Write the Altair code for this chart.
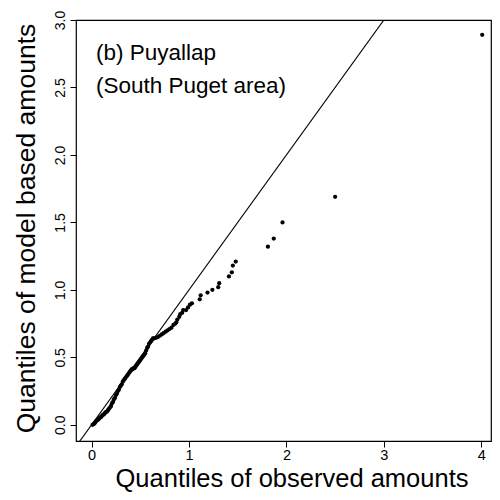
import altair as alt
import pandas as pd

# Quantiles of observed amounts (x) and model based amounts (y)
obs = [0.01, 0.02, 0.03, 0.04, 0.05, 0.06, 0.07, 0.08, 0.09, 0.10,
       0.11, 0.12, 0.13, 0.14, 0.15, 0.16, 0.17, 0.18, 0.19, 0.20,
       0.21, 0.22, 0.23, 0.24, 0.25, 0.26, 0.27, 0.28, 0.29, 0.30,
       0.31, 0.32, 0.33, 0.34, 0.35, 0.36, 0.37, 0.38, 0.39, 0.40,
       0.41, 0.42, 0.43, 0.44, 0.45, 0.46, 0.47, 0.48, 0.49, 0.50,
       0.51, 0.52, 0.53, 0.54, 0.55, 0.56, 0.57, 0.58, 0.59, 0.60,
       0.61, 0.62, 0.63, 0.64, 0.66, 0.68, 0.70, 0.72, 0.74, 0.76,
       0.78, 0.80, 0.82, 0.84, 0.86, 0.87, 0.88, 0.90, 0.91, 0.93,
       0.94, 0.97, 0.99, 1.01, 1.03, 1.11, 1.12, 1.19, 1.24, 1.30,
       1.31, 1.41, 1.44, 1.45, 1.48, 1.81, 1.87, 1.96, 2.50, 4.01]
model = [0.00, 0.005, 0.01, 0.02, 0.03, 0.035, 0.04, 0.05, 0.055, 0.06,
         0.07, 0.075, 0.08, 0.09, 0.095, 0.10, 0.11, 0.12, 0.13, 0.14,
         0.16, 0.17, 0.19, 0.20, 0.22, 0.23, 0.25, 0.26, 0.28, 0.29,
         0.30, 0.32, 0.33, 0.34, 0.35, 0.36, 0.37, 0.38, 0.39, 0.40,
         0.41, 0.41, 0.42, 0.42, 0.43, 0.44, 0.45, 0.46, 0.47, 0.48,
         0.49, 0.50, 0.51, 0.52, 0.53, 0.55, 0.57, 0.58, 0.60, 0.61,
         0.62, 0.63, 0.64, 0.64, 0.645, 0.65, 0.66, 0.67, 0.68, 0.69,
         0.70, 0.71, 0.72, 0.74, 0.75, 0.76, 0.78, 0.80, 0.82, 0.83,
         0.85, 0.85, 0.87, 0.89, 0.90, 0.93, 0.96, 0.98, 1.00, 1.02,
         1.05, 1.10, 1.13, 1.18, 1.21, 1.32, 1.38, 1.50, 1.69, 2.89]

# reference line y = x
ref_x = [-0.5, 3.5]
ref_y = [-0.5, 3.5]

# annotation
ann_x = [0.045, 0.045]
ann_y = [2.70, 2.458]
ann_text = ["(b) Puyallap", "(South Puget area)"]

x_ticks = [0, 1, 2, 3, 4]
y_ticks = [0.0, 0.5, 1.0, 1.5, 2.0, 2.5, 3.0]

FONT = "Liberation Sans"

pts = pd.DataFrame({"obs": obs, "model": model})
ref = pd.DataFrame({"obs": ref_x, "model": ref_y})
ann = pd.DataFrame({"obs": ann_x, "model": ann_y, "label": ann_text})

xscale = alt.Scale(domain=[-0.16, 4.10], nice=False, zero=False)
yscale = alt.Scale(domain=[-0.12, 3.0], nice=False, zero=False)

xaxis = alt.Axis(
    title="Quantiles of observed amounts", values=x_ticks, format="d",
    grid=False, domain=False, tickSize=6, tickColor="black", tickWidth=1,
    labelFont=FONT, labelFontSize=14.5, labelColor="black", labelPadding=1,
    titleFont=FONT, titleFontSize=25.5, titleFontWeight="normal", titleColor="black",
    titleX=215.5, titleY=45, titleBaseline="alphabetic", titleAlign="center",
)
yaxis = alt.Axis(
    title="Quantiles of model based amounts", values=y_ticks, format=".1f",
    grid=False, domain=False, tickSize=6, tickColor="black", tickWidth=1,
    labelFont=FONT, labelFontSize=14, labelColor="black", labelPadding=6,
    labelAngle=270, labelAlign="center", labelBaseline="alphabetic",
    titleFont=FONT, titleFontSize=26.5, titleFontWeight="normal", titleColor="black",
    titleAngle=270, titleX=-42, titleY=208, titleBaseline="alphabetic", titleAlign="center",
)

line = alt.Chart(ref).mark_line(color="black", strokeWidth=1.1, clip=True).encode(
    x=alt.X("obs:Q", scale=xscale, axis=xaxis),
    y=alt.Y("model:Q", scale=yscale, axis=yaxis),
)
points = alt.Chart(pts).mark_circle(color="black", size=18, opacity=1).encode(
    x=alt.X("obs:Q", scale=xscale),
    y=alt.Y("model:Q", scale=yscale),
)
text = alt.Chart(ann).mark_text(
    font=FONT, fontSize=22.5, align="left", baseline="alphabetic", color="black"
).encode(
    x=alt.X("obs:Q", scale=xscale),
    y=alt.Y("model:Q", scale=yscale),
    text="label:N",
)

chart = (line + points + text).properties(
    width=415, height=421,
    autosize=alt.AutoSizeParams(type="none"),
    padding={"left": 68, "top": 12, "right": 1, "bottom": 51},
).configure_view(stroke="black", strokeWidth=1.2)

chart.save("out.html", embed_options={"renderer": "svg", "actions": False})
